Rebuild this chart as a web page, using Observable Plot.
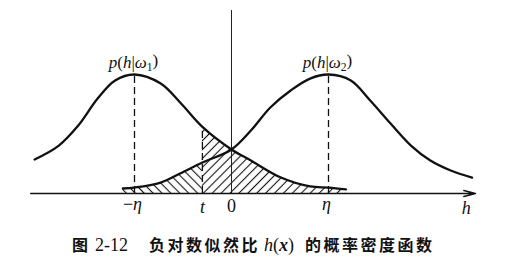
<!DOCTYPE html>
<html><head><meta charset="utf-8">
<script src="https://cdn.jsdelivr.net/npm/d3@7"></script>
<script src="https://cdn.jsdelivr.net/npm/@observablehq/plot@0.6"></script>
<style>
html,body{margin:0;padding:0;background:#fff;}
#wrap{position:relative;width:506px;height:268px;overflow:hidden;background:#fff;}
#chart svg{display:block;}
.cap{position:absolute;top:236px;line-height:16px;white-space:nowrap;color:#111;}
.cjk{font-family:"Noto Sans CJK SC";font-size:16px;font-weight:700;letter-spacing:2.5px;}
.ser{font-family:"Liberation Serif";font-size:18px;top:237px;}
</style></head><body>
<div id="wrap"><div id="chart"></div>
<span class="cap cjk" style="left:72px">图</span>
<span class="cap ser" style="left:95px">2-12</span>
<span class="cap cjk" style="left:149px">负对数似然比</span>
<span class="cap ser" style="left:264px"><i>h</i>(<b><i>x</i></b>)</span>
<span class="cap cjk" style="left:305px">的概率密度函数</span>
</div>
<script>
// p(h|ω1) (h in units of η, p relative to peak)
const h1 = [-2.03, -1.78, -1.58, -1.38, -1.20, -1.0, -0.73, -0.52, -0.30, 0, 0.20, 0.51, 0.81, 1.0, 1.18];
const p1 = [0.286, 0.403, 0.571, 0.798, 0.950, 1.0, 0.924, 0.756, 0.56, 0.370, 0.277, 0.134, 0.059, 0.05, 0.034];
// p(h|ω2)
const h2 = [-1.12, -1.0, -0.73, -0.53, -0.30, 0, 0.20, 0.40, 0.61, 0.81, 1.0, 1.23, 1.43, 1.64, 1.85, 2.05, 2.26, 2.48];
const p2 = [0.042, 0.05, 0.092, 0.168, 0.26, 0.370, 0.529, 0.723, 0.866, 0.966, 1.0, 0.950, 0.782, 0.588, 0.403, 0.277, 0.193, 0.134];
const eta = 1;
const tVal = -0.30;
const pAtT = 0.56;
const axisStart = -2.07, axisEnd = 2.515, yTop = 1.538;
const curveLabels = ["p(h|ω1)", "p(h|ω2)"];
const etaLabels = ["−η", "η"];
const hLabelPos = 2.42;

const c1 = h1.map((h, i) => ({h, p: p1[i]}));
const c2 = h2.map((h, i) => ({h, p: p2[i]}));
const dashed = [{h: -eta, p: 1}, {h: eta, p: 1}, {h: tVal, p: pAtT}];
const ser = "Liberation Serif";

const chart = Plot.plot({
  width: 506, height: 230,
  marginLeft: 27.3, marginRight: 22.8, marginTop: 10, marginBottom: 37,
  x: {domain: [-2.1, 2.6], axis: null},
  y: {domain: [0, yTop], axis: null},
  style: {background: "#fff", overflow: "visible"},
  marks: [
    Plot.areaY(c2.filter(d => d.h <= tVal), {x: "h", y: "p", curve: "catmull-rom", fill: "url(#hatchL)"}),
    Plot.areaY(c1.filter(d => d.h >= tVal), {x: "h", y: "p", curve: "catmull-rom", fill: "url(#hatchR)"}),
    Plot.ruleX([0], {y1: 0, y2: yTop, stroke: "#222", strokeWidth: 1}),
    Plot.ruleX(dashed, {x: "h", y1: 0, y2: "p", stroke: "#111", strokeDasharray: "7,4", strokeWidth: 1.3}),
    Plot.arrow([{a: axisStart, b: axisEnd}], {x1: "a", x2: "b", y1: 0, y2: 0, stroke: "#111", strokeWidth: 1.5, headLength: 12, headAngle: 28}),
    Plot.line(c1, {x: "h", y: "p", curve: "catmull-rom", stroke: "#111", strokeWidth: 2.3}),
    Plot.line(c2, {x: "h", y: "p", curve: "catmull-rom", stroke: "#111", strokeWidth: 2.3}),
    Plot.text(curveLabels, {x: [-eta, eta], y: [1, 1], text: d => d, lineAnchor: "bottom", dy: -7, dx: -1, fontFamily: ser, fontSize: 17, fill: "#111"}),
    Plot.text(etaLabels, {x: [-eta, eta], y: [0, 0], text: d => d, lineAnchor: "bottom", dy: 16, dx: -2, fontFamily: ser, fontSize: 18, fill: "#111"}),
    Plot.text(["t"], {x: [tVal], y: [0], text: d => d, lineAnchor: "bottom", dy: 19.5, fontFamily: ser, fontSize: 18, fontStyle: "italic", fill: "#111"}),
    Plot.text(["0"], {x: [0], y: [0], text: d => d, lineAnchor: "bottom", dy: 18.5, fontFamily: ser, fontSize: 18, fill: "#111"}),
    Plot.text(["h"], {x: [hLabelPos], y: [0], text: d => d, lineAnchor: "bottom", dy: 20, fontFamily: ser, fontSize: 18, fontStyle: "italic", fill: "#111"})
  ]
});
document.getElementById("chart").appendChild(chart);

const svg = d3.select(chart);
const defs = svg.insert("defs", ":first-child");
function hatch(id, angle) {
  const s = 6.3;
  defs.append("pattern").attr("id", id).attr("patternUnits", "userSpaceOnUse")
    .attr("width", s).attr("height", s).attr("patternTransform", `rotate(${angle})`)
    .append("line").attr("x1", s / 2).attr("y1", 0).attr("x2", s / 2).attr("y2", s)
    .attr("stroke", "#111").attr("stroke-width", 1.1);
}
hatch("hatchR", 45);
hatch("hatchL", -45);

// rich formatting of math labels
const rich = {
  "p(h|ω1)": [["p","i"],["(",""],["h","i"],["|",""],["ω","i"],["1","s"],[")",""]],
  "p(h|ω2)": [["p","i"],["(",""],["h","i"],["|",""],["ω","i"],["2","s"],[")",""]],
  "−η": [["−",""],["η","i"]],
  "η": [["η","i"]]
};
svg.selectAll("text").each(function() {
  const segs = rich[this.textContent];
  if (!segs) return;
  const el = d3.select(this);
  el.text(null);
  let shifted = false;
  for (const [s, st] of segs) {
    const ts = el.append("tspan").text(s);
    if (st === "i") ts.attr("font-style", "italic");
    if (st === "s") { ts.attr("font-size", "0.68em").attr("dy", "0.3em"); shifted = true; }
    else if (shifted) { ts.attr("dy", "-0.3em"); shifted = false; }
  }
});
</script>
</body></html>
